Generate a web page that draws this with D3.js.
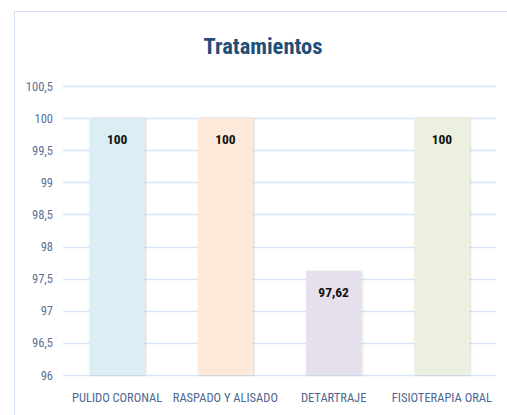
<!DOCTYPE html>
<html><head><meta charset="utf-8">
<script src="https://cdn.jsdelivr.net/npm/d3@7"></script>
<style>
html,body{margin:0;padding:0;background:#fff;}
svg{display:block;}
text{font-family:"Liberation Sans Narrow","Roboto Condensed","Liberation Sans",sans-serif;}
</style></head>
<body>
<svg id="c" width="507" height="415"></svg>
<script>
const categories = ["PULIDO CORONAL","RASPADO Y ALISADO","DETARTRAJE","FISIOTERAPIA ORAL"];
const values = [100, 100, 97.62, 100];
const valueLabels = ["100","100","97,62","100"];
const barColors = ["#DAEEF3","#FDE9D9","#E5E0EC","#EBF1DE"];
const yTicks = [96, 96.5, 97, 97.5, 98, 98.5, 99, 99.5, 100, 100.5];
const title = "Tratamientos";

const svg = d3.select("#c");
const plotLeft = 63, plotRight = 496, plotTop = 86, plotBottom = 375;

// frame
svg.append("path").attr("d", "M14.5,415 L14.5,11.5 L507,11.5")
  .attr("fill","none").attr("stroke","#d3e1f3").attr("stroke-width",1);

svg.append("text").text(title)
  .attr("x", 263).attr("y", 54).attr("text-anchor","middle")
  .attr("font-size", 22.5).attr("font-weight","bold").attr("fill","#1F4E79");

const y = d3.scaleLinear().domain([96, 100.5]).range([plotBottom, plotTop]);
const x = d3.scaleBand().domain(categories).range([plotLeft, plotRight]).paddingInner(0.49).paddingOuter(0.245);

// gridlines
svg.append("g").selectAll("line").data(yTicks).join("line")
  .attr("x1", plotLeft).attr("x2", plotRight)
  .attr("y1", d => Math.round(y(d)) + 0.5).attr("y2", d => Math.round(y(d)) + 0.5)
  .attr("stroke", "#d9e5f6").attr("stroke-width", 1.5);

// y axis labels
const yAxis = d3.axisLeft(y).tickValues(yTicks).tickSize(0).tickPadding(0)
  .tickFormat(d => String(d).replace(".", ","));
const gy = svg.append("g").attr("transform", `translate(53,0)`).call(yAxis);
gy.select(".domain").remove();
gy.selectAll("text").attr("font-size", 12.5).attr("fill", "#5B7196")
  .attr("font-family", '"Liberation Sans Narrow","Liberation Sans",sans-serif');

// shadow filter
const defs = svg.append("defs");
const f = defs.append("filter").attr("id","sh").attr("x","-10%").attr("y","-10%").attr("width","130%").attr("height","120%");
f.append("feDropShadow").attr("dx",1).attr("dy",0).attr("stdDeviation",1.2).attr("flood-color","#000").attr("flood-opacity",0.18);

// bars
svg.append("g").selectAll("rect").data(categories).join("rect")
  .attr("x", d => x(d)).attr("width", x.bandwidth())
  .attr("y", (d,i) => y(values[i])).attr("height", (d,i) => y(96) - y(values[i]))
  .attr("fill", (d,i) => barColors[i]).attr("filter","url(#sh)");

// value labels
svg.append("g").selectAll("text").data(categories).join("text")
  .attr("x", d => x(d) + x.bandwidth()/2)
  .attr("y", (d,i) => y(values[i]) + 26)
  .attr("text-anchor","middle").attr("font-size", 13.5).attr("font-weight","bold").attr("fill","#111")
  .text((d,i) => valueLabels[i]);

// x axis labels
const xAxis = d3.axisBottom(x).tickSize(0).tickPadding(0);
const gx = svg.append("g").attr("transform", `translate(0,${plotBottom + 27})`).call(xAxis);
gx.select(".domain").remove();
gx.selectAll("text").attr("font-size", 12.5).attr("fill", "#4F6690").attr("dy", 0)
  .attr("font-family", '"Liberation Sans Narrow","Liberation Sans",sans-serif');
</script>
</body></html>
